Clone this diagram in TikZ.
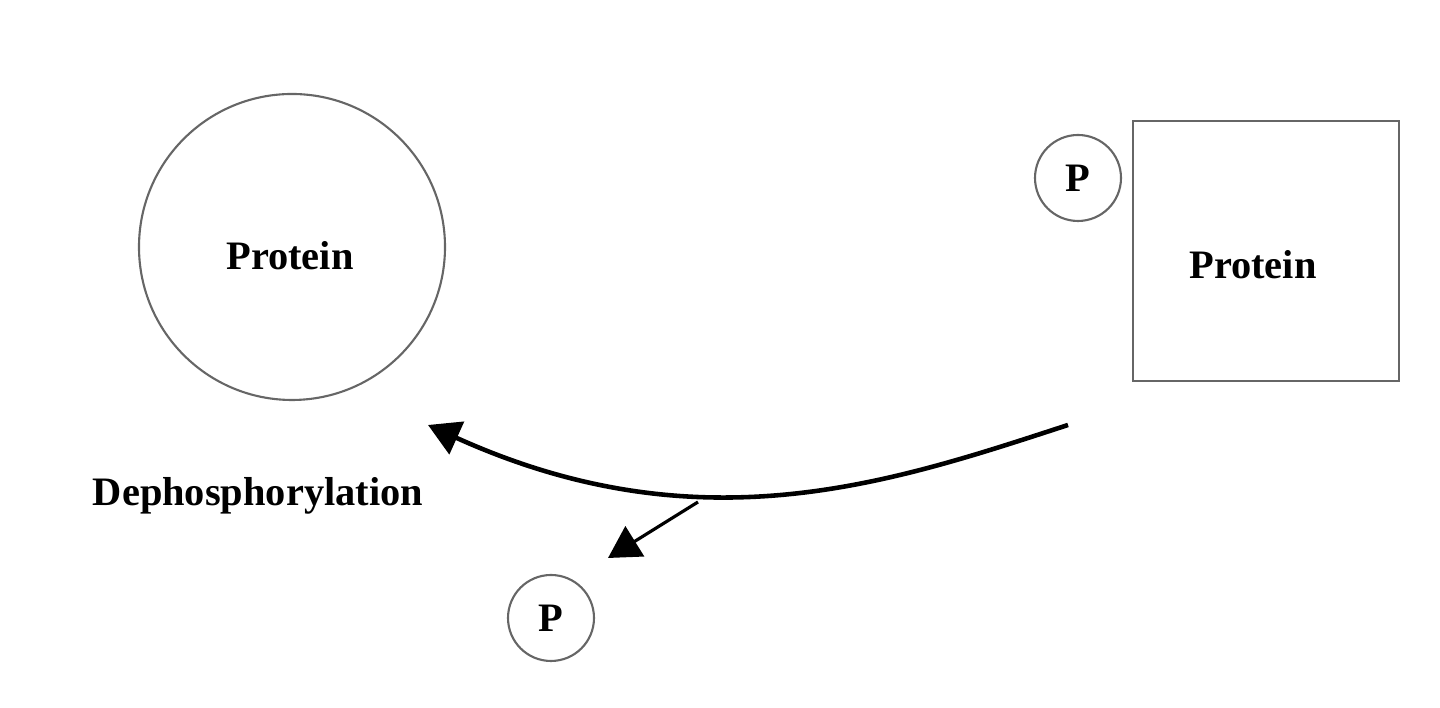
\documentclass[tikz,border=0pt]{standalone}
\usepackage{fontspec}
\setmainfont{Liberation Serif}
\usetikzlibrary{arrows.meta}

\begin{document}
\begin{tikzpicture}[font=\bfseries\fontsize{11.5}{13}\selectfont]
 \useasboundingbox (0,0) rectangle (14.4,7.08);
 \begin{scope}[every node/.style={draw=gray!80!black, line width=.6pt}]
  \node[circle, minimum size=3.06cm] (pc) at (2.92,4.61) {};
  \node[rectangle, minimum width=2.66cm, minimum height=2.6cm] (ps) at (12.66,4.57) {};
  \node[circle, minimum size=.86cm, inner sep=0] (p1) at (10.78,5.30) {P};
  \node[circle, minimum size=.86cm, inner sep=0] (p2) at (5.51,0.90) {P};
 \end{scope}
 \node (t1) at (2.9,4.52) {Protein};
 \node (t2) at (12.53,4.43) {Protein};
 \node (dp) at (2.58,2.12) {Dephosphorylation};
 \coordinate (s) at (10.68,2.83);
 \coordinate (e) at (4.28,2.83);
 \coordinate (b) at (6.98,2.06);
 \coordinate (r) at (6.08,1.50);
 \draw[line width=1.3pt, -{Triangle[length=9pt,width=10pt]}] (s) .. controls (8.9,2.25) and (7.0,1.6) .. (e);
 \draw[line width=.9pt, -{Triangle[length=9pt,width=10pt]}] (b) -- (r);
\end{tikzpicture}
\end{document}
